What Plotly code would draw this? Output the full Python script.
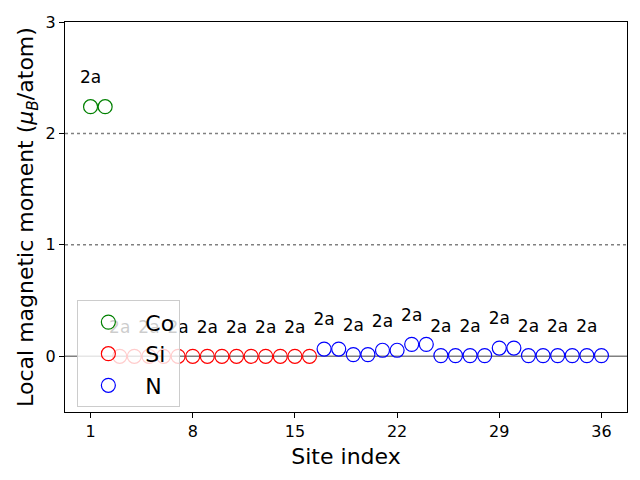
import plotly.graph_objects as go

co_sites = [1, 2]
co_vals = [2.24, 2.24]
si_sites = list(range(3, 17))
si_vals = [0.0] * 14
n_sites = list(range(17, 37))
n_vals = [0.065, 0.065, 0.015, 0.015, 0.054, 0.054, 0.107, 0.107,
          0.006, 0.006, 0.006, 0.006, 0.074, 0.074,
          0.006, 0.006, 0.006, 0.006, 0.006, 0.006]
label_text = "2a"
label_offset = 0.25
xticks = [1, 8, 15, 22, 29, 36]
yticks = [0, 1, 2, 3]

all_sites = co_sites + si_sites + n_sites
all_vals = co_vals + si_vals + n_vals
lab_x = all_sites[0::2]
lab_y = [v + label_offset for v in all_vals[0::2]]

fig = go.Figure()
font = "DejaVu Sans"
msize = 14
for name, xs, ys, col in [("Co", co_sites, co_vals, "green"),
                           ("Si", si_sites, si_vals, "red"),
                           ("N", n_sites, n_vals, "blue")]:
    fig.add_trace(go.Scatter(x=xs, y=ys, mode="markers", name=" " + name,
                             marker=dict(symbol="circle-open", size=msize, color=col,
                                         line=dict(width=1.2, color=col))))
fig.add_trace(go.Scatter(x=lab_x, y=lab_y, mode="text", text=[label_text] * len(lab_x),
                         textposition="middle center", showlegend=False,
                         textfont=dict(family=font, size=17, color="black")))

fig.add_hline(y=0, line=dict(color="gray", width=1.5), layer="below")
fig.add_hline(y=1, line=dict(color="gray", width=1.5, dash="dot"), layer="below")
fig.add_hline(y=2, line=dict(color="gray", width=1.5, dash="dot"), layer="below")

fig.update_layout(
    width=640, height=480,
    margin=dict(l=65, r=13, t=22, b=68),
    plot_bgcolor="white", paper_bgcolor="white",
    font=dict(family=font, size=16, color="black"),
    showlegend=True,
    legend=dict(x=0.022, y=0.012, xanchor="left", yanchor="bottom",
                bgcolor="rgba(255,255,255,0.8)", bordercolor="#cccccc", borderwidth=1,
                font=dict(size=22), itemwidth=50, tracegroupgap=0),
    xaxis=dict(range=[-0.75, 37.75], tickvals=xticks, ticks="outside", ticklen=5,
               tickcolor="black", showline=True, linecolor="black", linewidth=1,
               mirror=True, showgrid=False, zeroline=False,
               title=dict(text="Site index", font=dict(size=22), standoff=8),
               tickfont=dict(size=16)),
    yaxis=dict(range=[-0.5, 3], tickvals=yticks, ticks="outside", ticklen=5,
               tickcolor="black", showline=True, linecolor="black", linewidth=1,
               mirror=True, showgrid=False, zeroline=False,
               title=dict(text="Local magnetic moment (<i>μ<sub>B</sub></i>/atom)",
                          font=dict(size=22), standoff=5),
               tickfont=dict(size=16)),
)

fig.write_html("out.html")
